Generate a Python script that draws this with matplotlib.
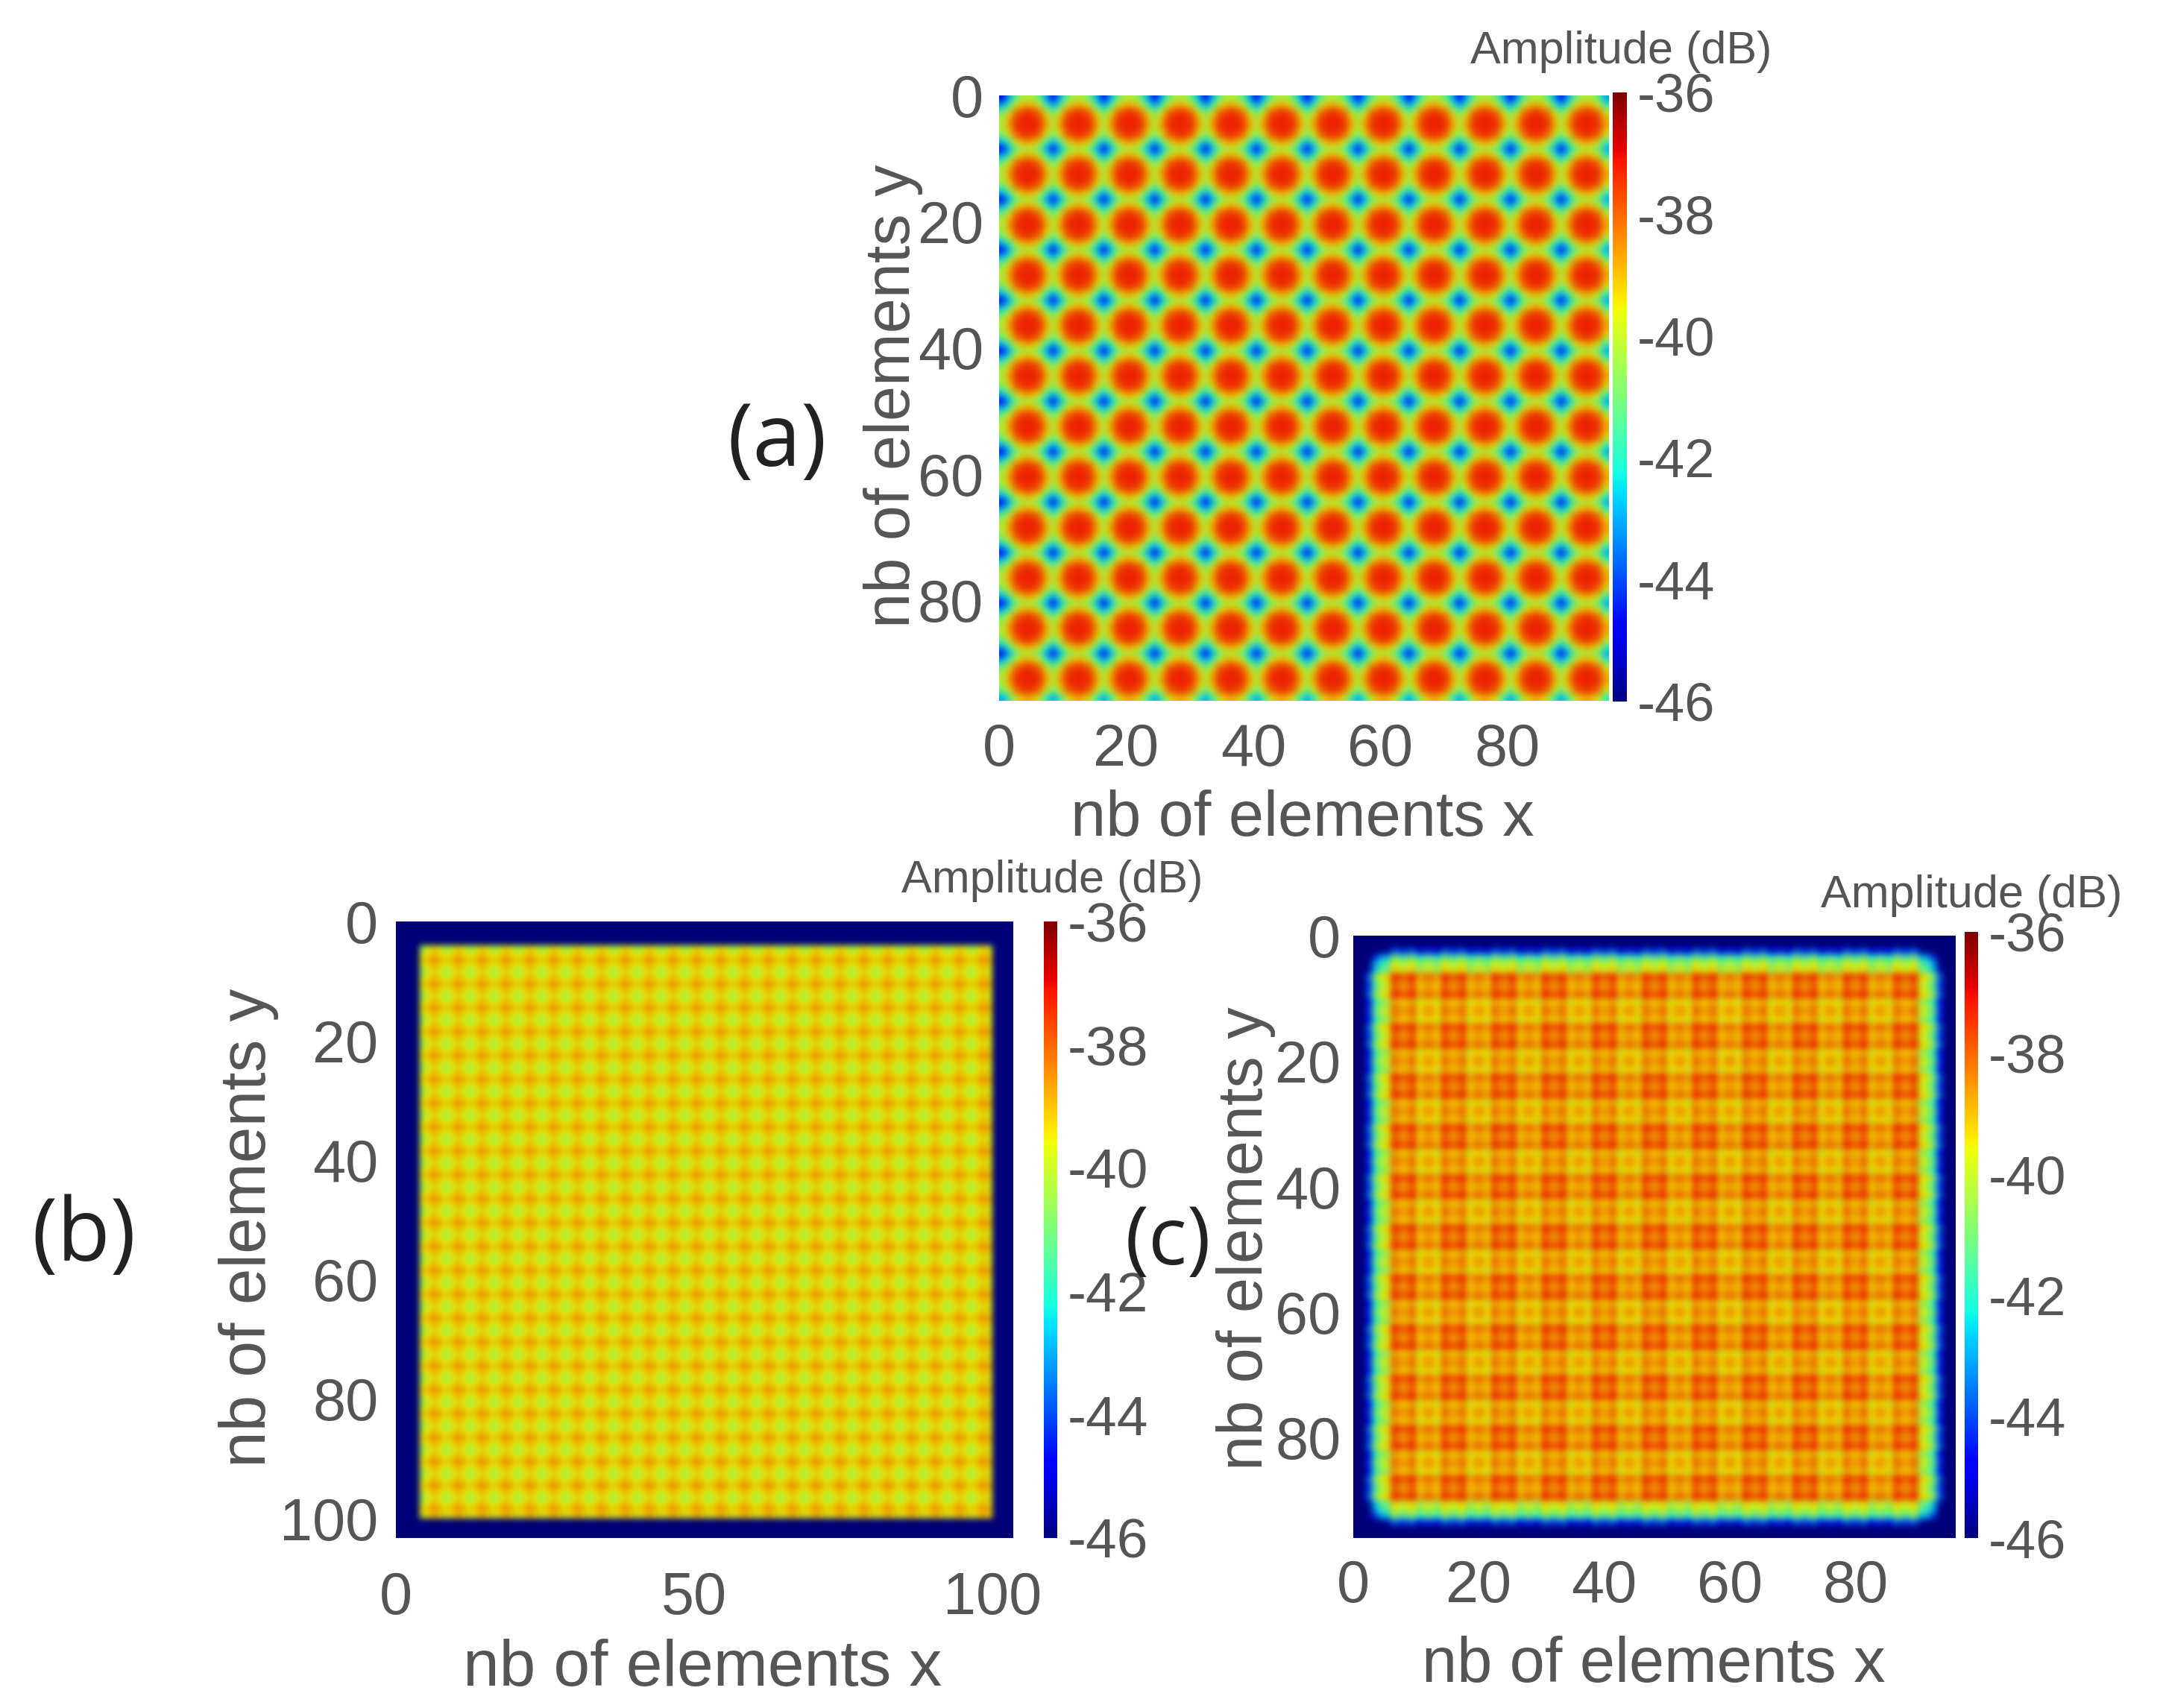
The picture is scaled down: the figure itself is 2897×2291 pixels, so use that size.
import numpy as np
import matplotlib
matplotlib.use("Agg")
import matplotlib.pyplot as plt
from matplotlib.colors import ListedColormap, Normalize
from matplotlib.cm import ScalarMappable

plt.rcParams['font.family'] = ['Liberation Sans', 'DejaVu Sans']

W, H = 2897, 2291
VMIN, VMAX = -46, -36
CBAR_TICKS = [-36, -38, -40, -42, -44, -46]
CBAR_LABELS = ['-36', '-38', '-40', '-42', '-44', '-46']
XLABEL = 'nb of elements x'
YLABEL = 'nb of elements y'
CBAR_TITLE = 'Amplitude (dB)'
TICKS_A = [0, 20, 40, 60, 80]
TICKS_B_X = [0, 50, 100]
TICKS_B_Y = [0, 20, 40, 60, 80, 100]
TICKS_C = [0, 20, 40, 60, 80]

# repeating 8x8 cell of panel (a), dB
CELL_A = [
    [-44.9, -43.0, -41.4, -40.4, -40.2, -40.4, -41.4, -43.0],
    [-43.0, -42.0, -40.1, -39.1, -38.8, -39.1, -40.1, -42.0],
    [-41.4, -40.1, -38.4, -37.8, -37.6, -37.8, -38.4, -40.1],
    [-40.4, -39.1, -37.8, -37.4, -37.3, -37.4, -37.8, -39.1],
    [-40.2, -38.8, -37.6, -37.3, -37.3, -37.3, -37.6, -38.8],
    [-40.4, -39.1, -37.8, -37.4, -37.3, -37.4, -37.8, -39.1],
    [-41.4, -40.1, -38.4, -37.8, -37.6, -37.8, -38.4, -40.1],
    [-43.0, -42.0, -40.1, -39.1, -38.8, -39.1, -40.1, -42.0],
]
# repeating 4x4 cell of panel (b), dB
CELL_B = [
    [-40.5, -39.9, -39.3, -39.9],
    [-39.9, -39.4, -38.9, -39.4],
    [-39.3, -38.9, -38.5, -38.9],
    [-39.9, -39.4, -38.9, -39.4],
]
BORDER_B = -46
# repeating 8x8 cell of panel (c), dB
CELL_C = [
    [-38.5, -37.7, -39.2, -38.7, -38.7, -39.2, -37.7, -38.5],
    [-37.7, -37.1, -38.7, -38.0, -38.0, -38.7, -37.1, -37.7],
    [-39.2, -38.7, -40.0, -39.4, -39.4, -40.0, -38.7, -39.2],
    [-38.7, -38.0, -39.4, -38.7, -38.7, -39.4, -38.0, -38.7],
    [-38.7, -38.0, -39.4, -38.7, -38.7, -39.4, -38.0, -38.7],
    [-39.2, -38.7, -40.0, -39.4, -39.4, -40.0, -38.7, -39.2],
    [-37.7, -37.1, -38.7, -38.0, -38.0, -38.7, -37.1, -37.7],
    [-38.5, -37.7, -39.2, -38.7, -38.7, -39.2, -37.7, -38.5],
]
# extra loss towards the edge of panel (c), dB per element from the edge
EDGE_LOSS_C = [9, 9, 5.0, 2.8, 1.5, 0.6]


def tiled(cell, n):
    cell = np.array(cell, float)
    reps = n // cell.shape[0] + 1
    return np.tile(cell, (reps, reps))[:n, :n]


data_a = tiled(CELL_A, 96)

data_b = np.full((104, 104), float(BORDER_B))
data_b[4:100, 4:100] = tiled(CELL_B, 96)

data_c = tiled(CELL_C, 96)
loss = np.zeros(96)
loss[:len(EDGE_LOSS_C)] = EDGE_LOSS_C
loss[-len(EDGE_LOSS_C):] = EDGE_LOSS_C[::-1]
data_c = data_c - loss[:, None] - loss[None, :]

fig = plt.figure(figsize=(W / 100, H / 100), dpi=100)
GREY = '#555555'

jet = plt.get_cmap('jet')
lut = jet(np.linspace(0, 1, 256))
lut[:, :3] *= 0.93
muted = ListedColormap(lut)
norm = Normalize(VMIN, VMAX)


def axpx(l, t, r, b):
    return fig.add_axes([l / W, 1 - b / H, (r - l) / W, (b - t) / H])


def panel(data, box, cbox, xticks, yticks, n, lim, tick_fs, cb_fs, xpad, ypad,
          xl_xy, yl_xy, title_xy, lab_fs, tag, tag_xy, tag_fs):
    ax = axpx(*box)
    ax.imshow(data, cmap=muted, norm=norm, extent=(0, n, n, 0), aspect='auto',
              interpolation='bicubic', interpolation_stage='rgba')
    ax.set_xlim(0, lim[0])
    ax.set_ylim(lim[1], 0)
    ax.set_xticks(xticks)
    ax.set_yticks(yticks)
    ax.tick_params(axis='both', length=0, labelsize=tick_fs, labelcolor=GREY)
    ax.tick_params(axis='x', pad=xpad)
    ax.tick_params(axis='y', pad=ypad)
    for s in ax.spines.values():
        s.set_visible(False)
    cax = axpx(*cbox)
    cb = fig.colorbar(ScalarMappable(norm=norm, cmap=jet), cax=cax)
    cb.set_ticks(CBAR_TICKS)
    cb.set_ticklabels(CBAR_LABELS)
    cb.ax.tick_params(length=0, labelsize=cb_fs, labelcolor=GREY, pad=10)
    cb.outline.set_visible(False)
    fig.text(xl_xy[0] / W, 1 - xl_xy[1] / H, XLABEL, ha='center', va='center', fontsize=lab_fs, color=GREY)
    fig.text(yl_xy[0] / W, 1 - yl_xy[1] / H, YLABEL, ha='center', va='center', fontsize=lab_fs, color=GREY, rotation=90)
    fig.text(title_xy[0] / W, 1 - title_xy[1] / H, CBAR_TITLE, ha='center', va='center', fontsize=44, color=GREY)
    fig.text(tag_xy[0] / W, 1 - tag_xy[1] / H, tag, ha='center', va='center', fontsize=tag_fs, color='#222222',
             family=['Open Sans', 'DejaVu Sans'])


panel(data_a, (1340, 128, 2158, 940), (2163, 124, 2182, 941), TICKS_A, TICKS_A, 96, (96, 96), 57, 52, 21, 15,
      (1747, 1099), (1198, 531), (2174, 70), 61, '(a)', (1042, 595), 84)
panel(data_b, (531, 1236, 1359, 2063), (1400, 1236, 1418, 2063), TICKS_B_X, TICKS_B_Y, 104, (103.5, 103.3), 57, 54, 32, 17,
      (942, 2238), (334, 1647), (1411, 1181), 63, '(b)', (112, 1660), 84)
panel(data_c, (1815, 1255, 2623, 2063), (2635, 1250, 2653, 2063), TICKS_C, TICKS_C, 96, (96, 96), 57, 52, 20, 12,
      (2218, 2234), (1671, 1661), (2644, 1202), 61, '(c)', (1567, 1668), 78)

fig.savefig('out.png', dpi=100)
